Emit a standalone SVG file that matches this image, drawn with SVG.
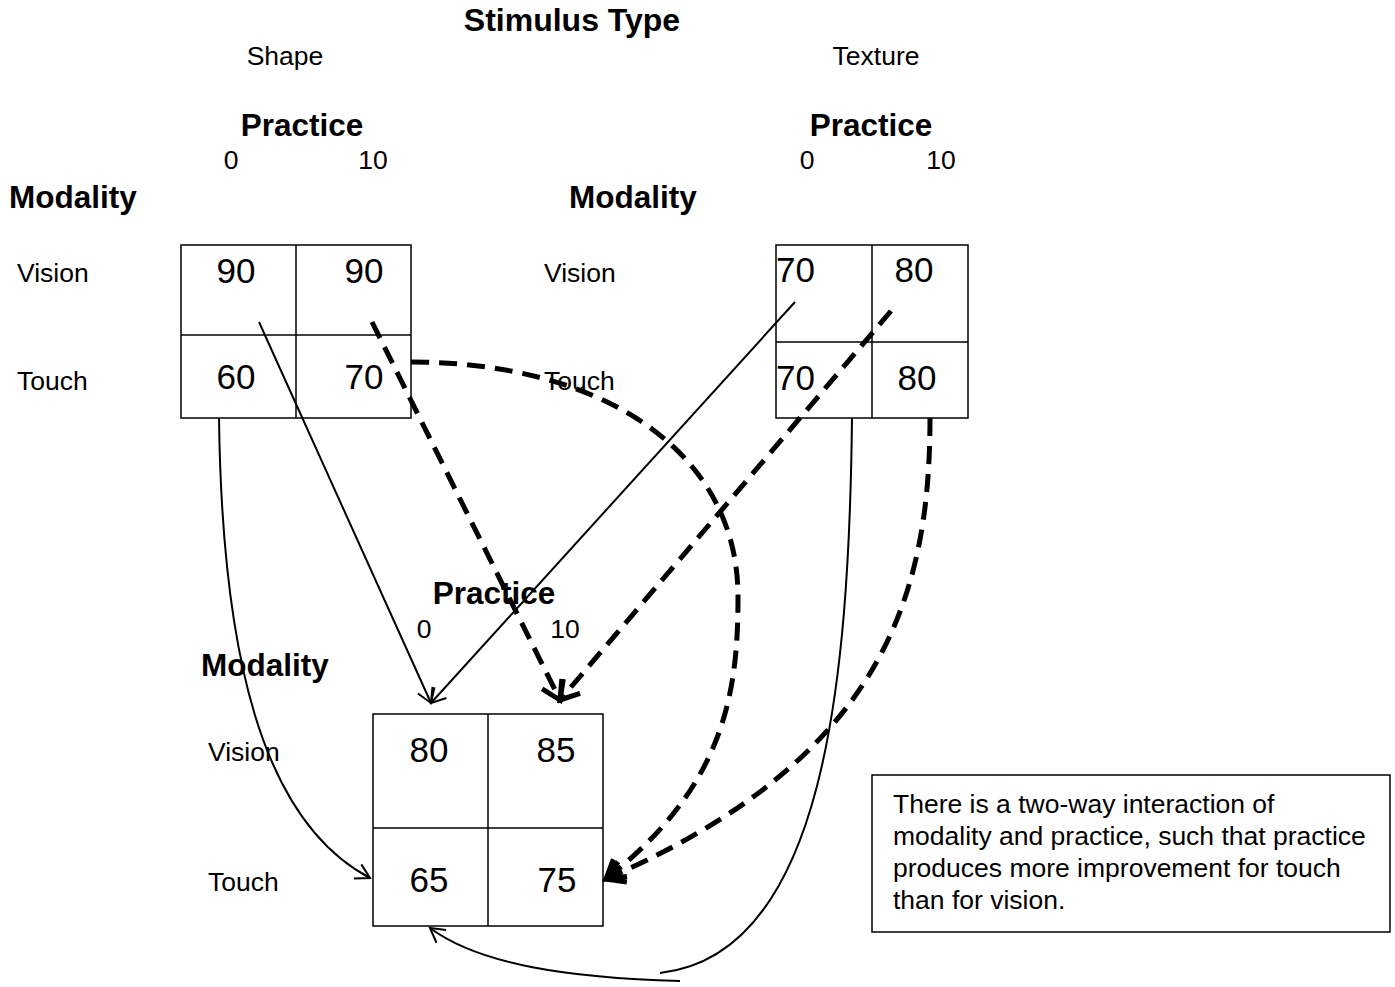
<svg xmlns="http://www.w3.org/2000/svg" width="1395" height="987" viewBox="0 0 1395 987">
<style>
text{font-family:"Liberation Sans",Arial,sans-serif;fill:#000}
.b{font-weight:bold;font-size:31.5px}
.r{font-size:26.5px}
.n{font-size:35px}
.t{font-size:26.5px}
.m{text-anchor:middle}
.cell{fill:#fff;stroke:#000;stroke-width:1.5}
.thin{fill:none;stroke:#000;stroke-width:2}
.dash{fill:none;stroke:#000;stroke-width:5;stroke-dasharray:18 10}
</style>
<defs>
<marker id="ao" markerUnits="userSpaceOnUse" viewBox="-16 -10 20 20" refX="0" refY="0" markerWidth="20" markerHeight="20" orient="auto">
<path d="M-14,-8 L0,0 L-14,8" fill="none" stroke="#000" stroke-width="2" stroke-dasharray="none"/>
</marker>
<marker id="ab" markerUnits="userSpaceOnUse" viewBox="-22 -14 26 28" refX="0" refY="0" markerWidth="26" markerHeight="28" orient="auto">
<path d="M-18,-11 L0,0 L-18,11" fill="none" stroke="#000" stroke-width="5" stroke-dasharray="none"/>
</marker>
</defs>
<rect width="1395" height="987" fill="#fff"/>

<g id="header">
<text class="b m" x="572" y="31" style="font-size:32px">Stimulus Type</text>
<text class="r m" x="285" y="65">Shape</text>
<text class="r m" x="876" y="65">Texture</text>
</g>

<g id="shape-table">
<text class="b m" x="302" y="136">Practice</text>
<text class="r m" x="231" y="169">0</text>
<text class="r m" x="373" y="169">10</text>
<text class="b" x="9" y="208">Modality</text>
<text class="r" x="17" y="282">Vision</text>
<text class="r" x="17" y="390">Touch</text>
<rect class="cell" x="181" y="245" width="230" height="173"/>
<line x1="296" y1="245" x2="296" y2="418" stroke="#000" stroke-width="1.5"/>
<line x1="181" y1="335" x2="411" y2="335" stroke="#000" stroke-width="1.5"/>
<text class="n m" x="236" y="283">90</text>
<text class="n m" x="364" y="283">90</text>
<text class="n m" x="236" y="389">60</text>
<text class="n m" x="364" y="389">70</text>
</g>

<g id="texture-table">
<text class="b m" x="871" y="136">Practice</text>
<text class="r m" x="807" y="169">0</text>
<text class="r m" x="941" y="169">10</text>
<text class="b" x="569" y="208">Modality</text>
<text class="r" x="544" y="282">Vision</text>
<text class="r" x="544" y="390">Touch</text>
<rect class="cell" x="776" y="245" width="192" height="173"/>
<line x1="872" y1="245" x2="872" y2="418" stroke="#000" stroke-width="1.5"/>
<line x1="776" y1="342" x2="968" y2="342" stroke="#000" stroke-width="1.5"/>
<text class="n" x="776" y="282">70</text>
<text class="n m" x="914" y="282">80</text>
<text class="n" x="776" y="390">70</text>
<text class="n m" x="917" y="390">80</text>
</g>

<g id="combined-table">
<text class="b m" x="494" y="604">Practice</text>
<text class="r m" x="424" y="638">0</text>
<text class="r m" x="565" y="638">10</text>
<text class="b" x="201" y="676">Modality</text>
<text class="r" x="208" y="761">Vision</text>
<text class="r" x="208" y="891">Touch</text>
<rect class="cell" x="373" y="714" width="230" height="212"/>
<line x1="488" y1="714" x2="488" y2="926" stroke="#000" stroke-width="1.5"/>
<line x1="373" y1="828" x2="603" y2="828" stroke="#000" stroke-width="1.5"/>
<text class="n m" x="429" y="762">80</text>
<text class="n m" x="556" y="762">85</text>
<text class="n m" x="429" y="892">65</text>
<text class="n m" x="557" y="892">75</text>
</g>

<g id="note">
<rect x="872" y="775" width="518" height="157" fill="#fff" stroke="#000" stroke-width="1.5"/>
<text class="t" x="893" y="813">There is a two-way interaction of</text>
<text class="t" x="893" y="845">modality and practice, such that practice</text>
<text class="t" x="893" y="877">produces more improvement for touch</text>
<text class="t" x="893" y="909">than for vision.</text>
</g>

<g id="connectors">
<line class="thin" x1="259" y1="322" x2="431" y2="703" stroke-width="2.5" marker-end="url(#ao)"/>
<line class="thin" x1="795" y1="302" x2="431" y2="703" stroke-width="1.5" marker-end="url(#ao)"/>
<line class="dash" x1="372" y1="322" x2="560" y2="700" marker-end="url(#ab)"/>
<line class="dash" x1="891" y1="311" x2="560" y2="700" marker-end="url(#ab)"/>
<path class="dash" d="M411,362 C600,362 740,450 738,600 C738,700 720,790 606,879" marker-end="url(#ab)"/>
<path class="dash" d="M930,418 C930,600 880,760 606,879" marker-end="url(#ab)"/>
<path class="thin" d="M219,418 C222,650 260,820 370,878" marker-end="url(#ao)"/>
<path class="thin" d="M852,418 C849,680 825,955 660,973"/>
<path class="thin" stroke-width="3" d="M680,981 C570,978 480,965 430,928" marker-end="url(#ao)"/>
</g>
</svg>
